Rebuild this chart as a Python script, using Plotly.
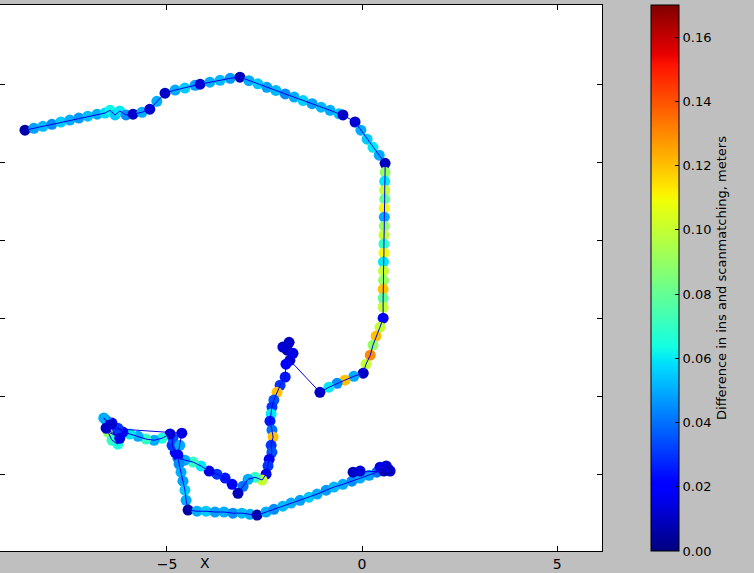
import plotly.graph_objects as go  # For the scatter plot

# Trajectory, split into the stretches that make up the track
# top stretch, from the far left start to the right corner
top_x = [-8.64, -8.41, -8.18, -7.95, -7.72, -7.49, -7.26, -7.03, -6.79, -6.59, -6.46, -6.33, -6.21, -6.05,
         -5.87, -5.64, -5.44, -5.26, -5.05, -4.79, -4.54, -4.28, -4.15, -3.90, -3.64, -3.38, -3.13, -2.90,
         -2.67, -2.44, -2.21, -1.97, -1.74, -1.51, -1.28, -1.05, -0.82, -0.59, -0.49, -0.18, -0.03, 0.13,
         0.28, 0.44, 0.59]
top_y = [8.82, 8.87, 8.92, 8.97, 9.03, 9.08, 9.13, 9.18, 9.23, 9.26, 9.33, 9.21, 9.31, 9.21,
         9.23, 9.28, 9.36, 9.56, 9.77, 9.85, 9.90, 9.97, 10.00, 10.05, 10.10, 10.15, 10.18, 10.09,
         10.01, 9.92, 9.84, 9.75, 9.67, 9.58, 9.50, 9.41, 9.33, 9.24, 9.21, 9.03, 8.82, 8.59,
         8.38, 8.18, 7.97]
top_diff = [0.006, 0.048, 0.052, 0.045, 0.055, 0.050, 0.047, 0.053, 0.050, 0.058, 0.062, 0.055, 0.060, 0.045,
            0.010, 0.050, 0.012, 0.050, 0.010, 0.050, 0.055, 0.048, 0.012, 0.050, 0.052, 0.047, 0.008, 0.050,
            0.055, 0.048, 0.052, 0.045, 0.050, 0.056, 0.048, 0.052, 0.050, 0.054, 0.010, 0.012, 0.050, 0.055,
            0.060, 0.050, 0.008]

# long way down on the right side
right_x = [0.59, 0.58, 0.58, 0.58, 0.57, 0.57, 0.57, 0.56, 0.56, 0.56, 0.55, 0.55, 0.55, 0.54, 0.54, 0.54, 0.54,
           0.46, 0.36, 0.28, 0.21, 0.10, 0.03, -0.21, -0.44, -0.64, -0.85, -1.08]
right_y = [7.74, 7.51, 7.28, 7.05, 6.82, 6.59, 6.36, 6.13, 5.90, 5.67, 5.44, 5.21, 4.97, 4.74, 4.51, 4.28, 4.00,
           3.77, 3.54, 3.31, 3.05, 2.82, 2.59, 2.51, 2.41, 2.33, 2.23, 2.10]
right_diff = [0.09, 0.06, 0.10, 0.08, 0.11, 0.05, 0.09, 0.10, 0.07, 0.11, 0.06, 0.10, 0.09, 0.12, 0.08, 0.10, 0.02,
              0.10, 0.12, 0.09, 0.13, 0.10, 0.01, 0.05, 0.12, 0.045, 0.06, 0.01]

# jump to the small cluster, then down the middle and round the V
mid_x = [-1.85, -1.92, -2.03, -1.87, -1.77, -1.95,
         -1.97, -2.10, -2.18, -2.26, -2.31, -2.33, -2.36, -2.31, -2.28, -2.33, -2.31, -2.38, -2.41, -2.46,
         -2.56, -2.74, -2.92, -3.05, -3.18,
         -3.33, -3.51, -3.72, -3.92, -4.13, -4.33, -4.54, -4.72, -4.79, -4.87, -4.85, -4.92]
mid_y = [2.92, 3.18, 3.26, 3.38, 3.10, 2.82,
         2.49, 2.28, 2.10, 1.90, 1.72, 1.54, 1.36, 1.13, 0.95, 0.74, 0.56, 0.38, 0.21, 0.00,
         -0.15, -0.08, -0.13, -0.31, -0.49,
         -0.26, -0.10, 0.00, 0.08, 0.21, 0.31, 0.36, 0.41, 0.56, 0.74, 0.92, 1.03]
mid_diff = [0.010, 0.008, 0.012, 0.010, 0.015, 0.020,
            0.025, 0.030, 0.120, 0.035, 0.030, 0.060, 0.025, 0.040, 0.120, 0.030, 0.035, 0.020, 0.030, 0.015,
            0.100, 0.070, 0.050, 0.040, 0.008,
            0.020, 0.025, 0.030, 0.015, 0.060, 0.070, 0.050, 0.040, 0.020, 0.030, 0.035, 0.012]

# out to the left cluster and back
left_x = [-5.13, -5.33, -5.54, -5.74, -5.95,
          -6.13, -6.26, -6.41, -6.56, -6.62, -6.46, -6.33, -6.51, -6.41, -6.26, -6.21, -6.56]
left_y = [0.92, 0.87, 0.90, 0.97, 1.03,
          1.08, 1.18, 1.31, 1.38, 1.44, 1.26, 1.00, 1.08, 0.87, 0.77, 0.92, 1.18]
left_diff = [0.065, 0.050, 0.070, 0.050, 0.060,
             0.020, 0.030, 0.015, 0.040, 0.050, 0.010, 0.030, 0.090, 0.070, 0.065, 0.015, 0.010]

# down, along the bottom and up to the end point
bottom_x = [-4.62, -4.67, -4.72, -4.69, -4.64, -4.59, -4.54, -4.51, -4.46,
            -4.23, -4.00, -3.77, -3.54, -3.31, -3.08, -2.87, -2.69,
            -2.46, -2.26, -2.03, -1.82, -1.59, -1.36, -1.15, -0.92, -0.72, -0.49, -0.26, -0.05, 0.18, 0.38,
            0.54, 0.67, 0.62, 0.46, 0.72, 0.56, -0.23, -0.05]
bottom_y = [1.05, 0.74, 0.49, 0.26, 0.05, -0.18, -0.41, -0.67, -0.92,
            -0.95, -0.95, -0.97, -0.97, -1.00, -1.00, -1.03, -1.05,
            -0.97, -0.90, -0.82, -0.74, -0.67, -0.59, -0.51, -0.41, -0.33, -0.26, -0.18, -0.10, -0.03, 0.05,
            0.15, 0.13, 0.21, 0.18, 0.08, 0.08, 0.05, 0.08]
bottom_diff = [0.015, 0.050, 0.020, 0.045, 0.050, 0.048, 0.055, 0.050, 0.005,
               0.050, 0.055, 0.048, 0.050, 0.045, 0.052, 0.050, 0.006,
               0.050, 0.045, 0.052, 0.050, 0.048, 0.055, 0.050, 0.047, 0.052, 0.050, 0.045, 0.050, 0.048, 0.040,
               0.010, 0.008, 0.012, 0.015, 0.010, 0.008, 0.010, 0.012]

# Join the stretches into one track
pos_x = top_x + right_x + mid_x + left_x + bottom_x
pos_y = top_y + right_y + mid_y + left_y + bottom_y
diff = top_diff + right_diff + mid_diff + left_diff + bottom_diff

# matplotlib "jet" colormap
jet = [[0.0, "rgb(0,0,128)"], [0.11, "rgb(0,0,255)"], [0.125, "rgb(0,0,255)"],
       [0.34, "rgb(0,219,255)"], [0.35, "rgb(0,230,247)"], [0.375, "rgb(21,255,226)"],
       [0.64, "rgb(239,255,8)"], [0.65, "rgb(247,246,0)"], [0.66, "rgb(255,236,0)"],
       [0.89, "rgb(255,19,0)"], [0.91, "rgb(232,0,0)"], [1.0, "rgb(128,0,0)"]]

font_name = "DejaVu Sans"

fig = go.Figure()

# coloured points along the track
fig.add_trace(go.Scatter(
    x=pos_x, y=pos_y, mode="markers",
    marker=dict(size=11, color=diff, colorscale=jet, cmin=0, cmax=0.17,
                line=dict(width=0),
                colorbar=dict(
                    title=dict(text="Difference in ins and scanmatching, meters", side="right",
                               font=dict(family=font_name, size=13, color="black")),
                    x=651 / 602, xanchor="left", xpad=0,
                    y=0.5, yanchor="middle", ypad=0, len=1, lenmode="fraction",
                    thickness=28, thicknessmode="pixels",
                    outlinecolor="black", outlinewidth=1,
                    tickvals=[0, 0.02, 0.04, 0.06, 0.08, 0.10, 0.12, 0.14, 0.16],
                    tickformat=".2f", ticks="inside", ticklen=4, tickcolor="black",
                    tickfont=dict(family=font_name, size=13, color="black"))),
    showlegend=False, hoverinfo="skip"))

# thin line joining the points in order
fig.add_trace(go.Scatter(x=pos_x, y=pos_y, mode="lines",
                         line=dict(color="rgb(0,0,230)", width=1),
                         showlegend=False, hoverinfo="skip"))

fig.update_layout(
    width=754, height=573,
    paper_bgcolor="#bfbfbf", plot_bgcolor="white",
    margin=dict(l=0, r=152, t=5, b=22),
    font=dict(family=font_name, size=14, color="black"),
    xaxis=dict(range=[-9.28, 6.15], tickvals=[-5, 0, 5], ticks="inside", ticklen=5,
               tickcolor="black", showline=True, linecolor="black", linewidth=1, mirror="ticks",
               showgrid=False, zeroline=False, automargin=False,
               tickfont=dict(size=14)),
    yaxis=dict(range=[-1.97, 12.03], tickvals=[0, 2, 4, 6, 8, 10], ticks="inside", ticklen=5,
               tickcolor="black", showline=True, linecolor="black", linewidth=1, mirror="ticks",
               showgrid=False, zeroline=False, showticklabels=False, automargin=False)
)

# x axis label, sitting low at the bottom edge as in the original
fig.add_annotation(text="X", xref="paper", yref="paper", x=205 / 602, y=-0.0403,
                   xanchor="center", yanchor="bottom", showarrow=False,
                   font=dict(family=font_name, size=14, color="black"))

# drop the page margin so the figure sits in the window corner
fig.write_html("out.html", config={"displayModeBar": False},
               post_script="document.body.style.margin='0';")
